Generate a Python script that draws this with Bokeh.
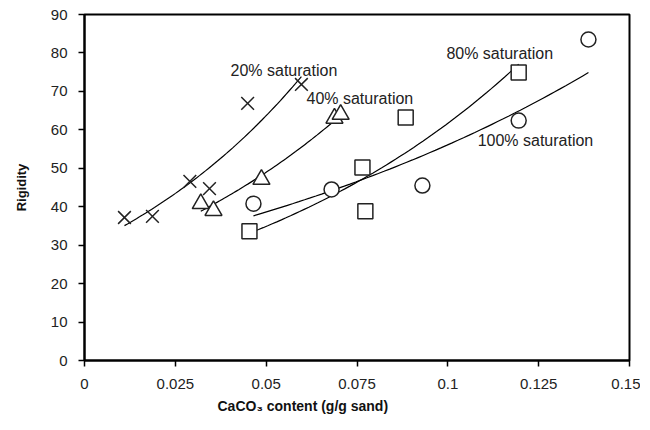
import numpy as np
from bokeh.plotting import figure
from bokeh.models import FixedTicker, Label, Title
from bokeh.embed import file_html
from bokeh.resources import INLINE

# Data
x20 = [0.011, 0.0187, 0.029, 0.0344, 0.0449, 0.0597]
y20 = [37.2, 37.5, 46.6, 44.7, 66.9, 71.8]
x40 = [0.032, 0.0355, 0.0487, 0.0688, 0.0705]
y40 = [40.8, 39.0, 47.1, 63.0, 64.0]
x80 = [0.0454, 0.0765, 0.0773, 0.0884, 0.1195]
y80 = [33.6, 50.2, 38.8, 63.2, 74.9]
x100 = [0.0465, 0.068, 0.093, 0.1195, 0.1387]
y100 = [40.8, 44.5, 45.5, 62.4, 83.5]

x_ticks = [0, 0.025, 0.05, 0.075, 0.1, 0.125, 0.15]
x_tick_labels = ["0", "0.025", "0.05", "0.075", "0.1", "0.125", "0.15"]
y_ticks = [0, 10, 20, 30, 40, 50, 60, 70, 80, 90]

series_labels = ["20% saturation", "40% saturation", "80% saturation", "100% saturation"]
label_pos = [(0.0402, 75.4), (0.0611, 68.2), (0.0996, 79.9), (0.1082, 57.2)]

x_title = "CaCO\u2083 content (g/g sand)"

FONT = "Liberation Sans"

p = figure(width=640, height=422, x_range=(0, 0.15), y_range=(0, 90),
           output_backend="svg", toolbar_location=None,
           min_border_left=84, min_border_top=14, min_border_right=11, min_border_bottom=62)
p.frame_width = 545
p.frame_height = 346
p.grid.visible = False
p.outline_line_color = "black"
p.outline_line_width = 2

p.xaxis.ticker = FixedTicker(ticks=x_ticks)
p.xaxis.major_label_overrides = {t: l for t, l in zip(x_ticks, x_tick_labels)}
p.yaxis.ticker = FixedTicker(ticks=y_ticks)
for ax in (p.xaxis, p.yaxis):
    ax.axis_line_width = 2
    ax.axis_line_color = "black"
    ax.major_tick_line_width = 1.5
    ax.major_tick_line_color = "black"
    ax.major_tick_out = 6
    ax.major_tick_in = 0
    ax.minor_tick_line_color = None
    ax.major_label_text_font = FONT
    ax.major_label_text_font_size = "15px"
    ax.major_label_text_color = "#222222"
    ax.axis_label_text_font = FONT
    ax.axis_label_text_font_style = "bold"
    ax.axis_label_text_color = "#111111"
p.yaxis.axis_label = "Rigidity"
p.yaxis.axis_label_text_font_size = "13px"
p.xaxis.major_label_standoff = 12
p.yaxis.major_label_standoff = 11
p.yaxis.axis_label_standoff = 19

p.add_layout(Title(text=x_title, align="left", offset=133, text_font=FONT,
                   text_font_size="14px", text_font_style="bold", text_color="#111111",
                   standoff=8), "below")


def trend(xs, ys):
    xs = np.asarray(xs)
    ys = np.asarray(ys)
    b, lna = np.polyfit(xs, np.log(ys), 1)
    xx = np.linspace(xs.min(), xs.max(), 60)
    return xx, np.exp(lna) * np.exp(b * xx)


for xs, ys in ((x20, y20), (x40, y40), (x80, y80), (x100, y100)):
    tx, ty = trend(xs, ys)
    p.line(tx, ty, line_color="black", line_width=1.2)

p.scatter(x20, y20, marker="x", size=18, line_color="#222222", line_width=1.5)
p.scatter(x40, y40, marker="triangle", size=17, line_color="#222222", fill_color="white", line_width=1.5)
p.scatter(x80, y80, marker="square", size=15, line_color="#222222", fill_color="white", line_width=1.5)
p.scatter(x100, y100, marker="circle", size=15, line_color="#222222", fill_color="white", line_width=1.5)

for txt, (lx, ly) in zip(series_labels, label_pos):
    p.add_layout(Label(x=lx, y=ly, text=txt, text_font=FONT, text_font_size="16px",
                       text_color="#222222", text_baseline="middle", text_align="left"))

open("out.html", "w").write(file_html(p, INLINE))
